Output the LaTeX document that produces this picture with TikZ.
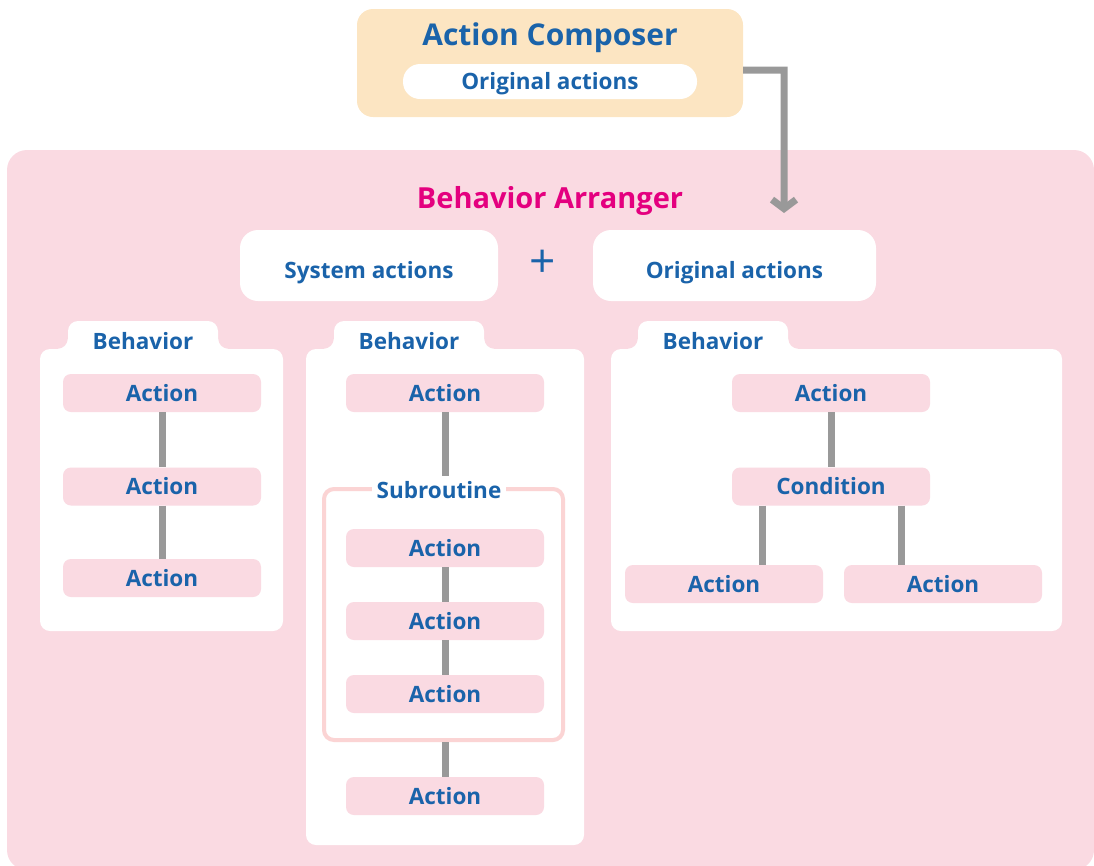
\documentclass[tikz,border=0pt]{standalone}
\usepackage{fontspec}
\setmainfont{Open Sans}
\usetikzlibrary{arrows.meta}

\definecolor{txtblue}{RGB}{26,99,170}
\definecolor{arrmag}{RGB}{228,0,127}
\definecolor{bgpink}{RGB}{250,218,226}
\definecolor{cmporange}{RGB}{252,229,194}
\definecolor{subpink}{RGB}{251,212,212}
\definecolor{linkgray}{RGB}{153,153,153}

\begin{document}
\begin{tikzpicture}[x=1pt,y=-1pt,
  lbl/.style={text=txtblue,font=\bfseries\fontsize{22.5}{26}\selectfont},
  pill/.style={fill=white,rounded corners=17pt,inner sep=0pt},
  act/.style={lbl,fill=bgpink,rounded corners=8pt,minimum width=198pt,minimum height=38pt,inner sep=0pt},
  panel/.style={fill=white,rounded corners=10pt,inner sep=0pt},
  tab/.style={lbl,fill=white,rounded corners=10pt,minimum width=150pt,minimum height=40pt,inner sep=0pt},
  link/.style={draw=linkgray,line width=7pt},
  flow/.style={draw=linkgray,line width=7pt,-{Straight Barb[length=9pt,width=24pt]}}]
\useasboundingbox (0,0) rectangle (1094,865);

% outer area
\node[fill=bgpink,rounded corners=20pt,minimum width=1087pt,minimum height=720pt,inner sep=0pt] (arranger) at (550.5,510) {};

% composer
\node[fill=cmporange,rounded corners=16pt,minimum width=386pt,minimum height=108pt,inner sep=0pt] (composer) at (550,63) {};
\node[text=txtblue,font=\bfseries\fontsize{30}{34}\selectfont] (cmptitle) at (550,38) {Action Composer};
\node[pill,minimum width=294pt,minimum height=35pt] (cmporig) at (550,81.5) {};
\node[lbl] (cmptxt) at (550,84) {Original actions};

\node[text=arrmag,font=\bfseries\fontsize{29}{34}\selectfont] (arrtitle) at (550,201) {Behavior Arranger};
\coordinate (flowend) at (784,213);
\draw[flow] ([yshift=-7pt]composer.east) -- ++(41,0) -- (flowend);

\node[pill,rounded corners=18pt,minimum width=258pt,minimum height=71pt] (sysact) at (369,265.5) {};
\node[lbl] (systxt) at (369,273) {System actions};
\node[text=txtblue,font=\fontsize{46}{48}\selectfont] (plus) at (543,264) {+};
\node[pill,rounded corners=18pt,minimum width=283pt,minimum height=71pt] (origact) at (734.5,265.5) {};
\node[lbl] (origtxt) at (734.5,273) {Original actions};

% behavior 1
\node[tab] (tab1) at (143,341) {Behavior};
\node[panel,minimum width=243pt,minimum height=282pt] (beh1) at (161.5,490) {};
\fill[white] (tab1.west |- beh1.north) -- ++(-10,0) arc[start angle=90,end angle=0,radius=10] -- cycle;
\fill[white] (tab1.east |- beh1.north) -- ++(10,0) arc[start angle=90,end angle=180,radius=10] -- cycle;
\node[act] (a1) at (162,393) {Action};
\node[act] (a2) at (162,486.5) {Action};
\node[act] (a3) at (162,578) {Action};
\draw[link] (a1.south) -- (a2.north);
\draw[link] (a2.south) -- (a3.north);

% behavior 2
\node[tab] (tab2) at (409,341) {Behavior};
\node[panel,minimum width=278pt,minimum height=496pt] (beh2) at (445,597) {};
\fill[white] (tab2.west |- beh2.north) -- ++(-10,0) arc[start angle=90,end angle=0,radius=10] -- cycle;
\fill[white] (tab2.east |- beh2.north) -- ++(10,0) arc[start angle=90,end angle=180,radius=10] -- cycle;
\node[draw=subpink,line width=4pt,rounded corners=10pt,minimum width=239pt,minimum height=251pt,inner sep=0pt] (sub) at (443.5,614.5) {};
\node[lbl,fill=white,inner sep=5pt] (sublbl) at (439,490) {Subroutine};
\node[act] (b1) at (445,393) {Action};
\node[act] (b2) at (445,548) {Action};
\node[act] (b3) at (445,621) {Action};
\node[act] (b4) at (445,694) {Action};
\node[act] (b5) at (445,796) {Action};
\draw[link] (b1.south) -- (b1.south |- sublbl.north);
\draw[link] (b2.south) -- (b3.north);
\draw[link] (b3.south) -- (b4.north);
\draw[link] (b5.north |- sub.south) -- (b5.north);

% behavior 3
\node[tab] (tab3) at (713,341) {Behavior};
\node[panel,minimum width=451pt,minimum height=282pt] (beh3) at (836.5,490) {};
\fill[white] (tab3.west |- beh3.north) -- ++(-10,0) arc[start angle=90,end angle=0,radius=10] -- cycle;
\fill[white] (tab3.east |- beh3.north) -- ++(10,0) arc[start angle=90,end angle=180,radius=10] -- cycle;
\node[act] (c1) at (831,393) {Action};
\node[act] (cond) at (831,486.5) {Condition};
\node[act] (c2) at (724,584) {Action};
\node[act] (c3) at (943,584) {Action};
\draw[link] (c1.south) -- (cond.north);
\draw[link] ([xshift=-69pt]cond.south) -- ([xshift=-69pt]cond.south |- c2.north);
\draw[link] ([xshift=70pt]cond.south) -- ([xshift=70pt]cond.south |- c3.north);

\end{tikzpicture}
\end{document}
